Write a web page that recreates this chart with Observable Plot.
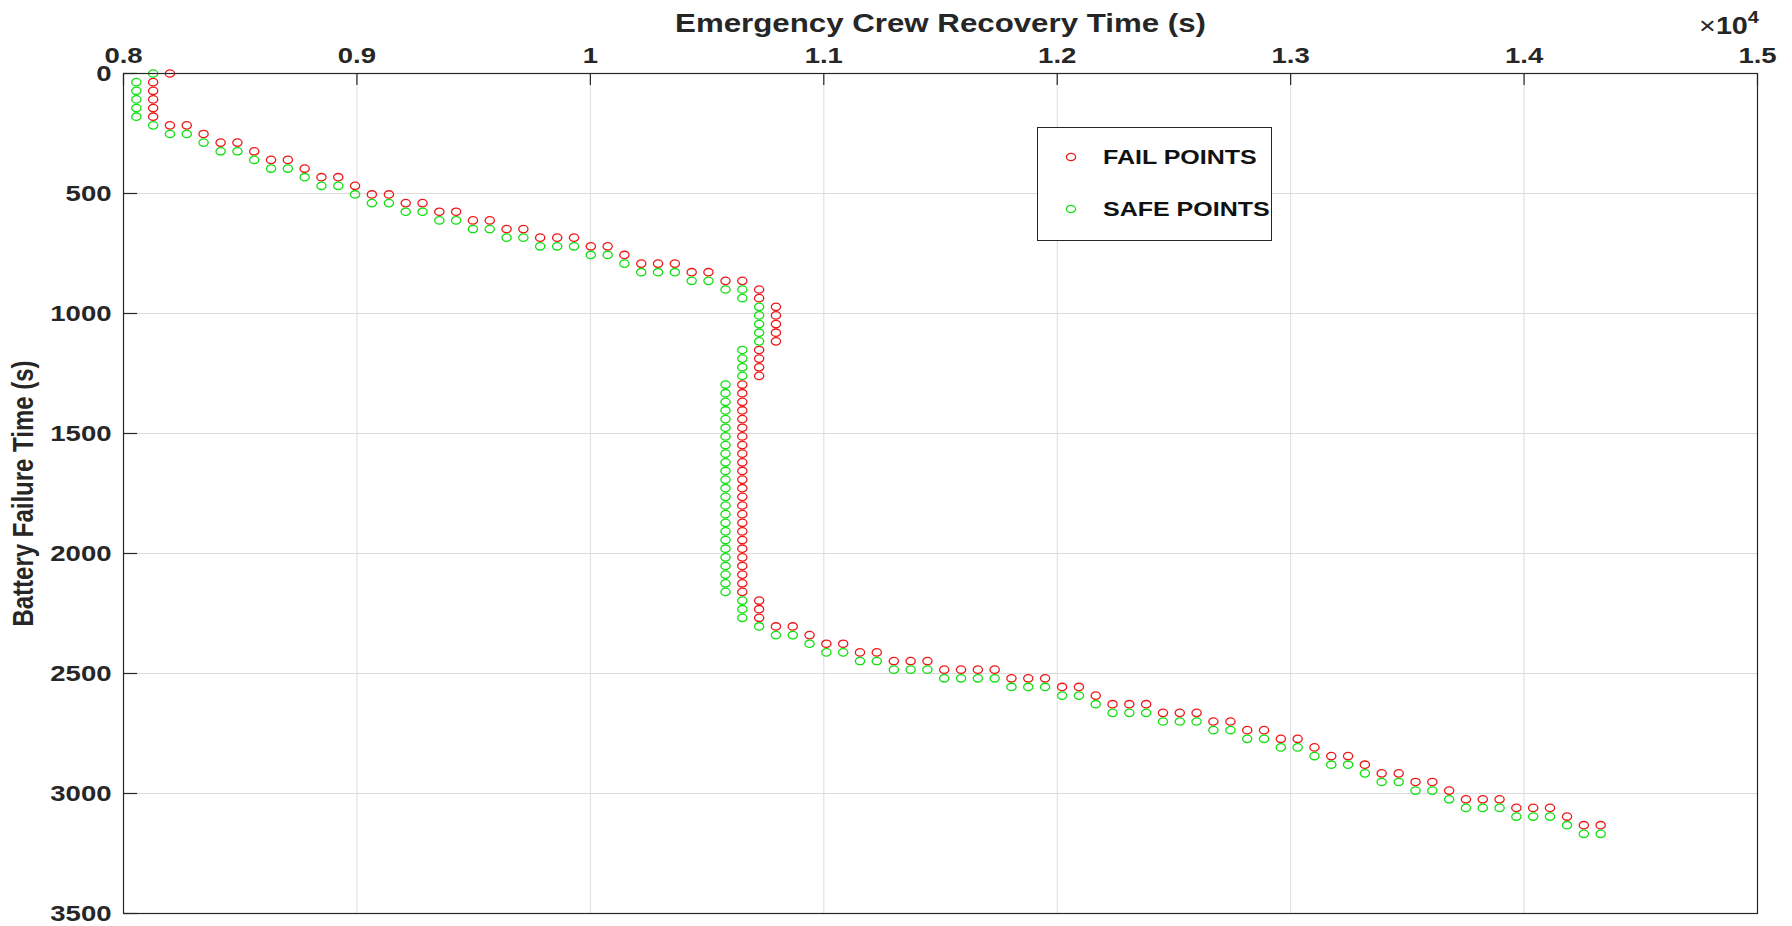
<!DOCTYPE html>
<html>
<head>
<meta charset="utf-8">
<script src="https://cdn.jsdelivr.net/npm/d3@7"></script>
<script src="https://cdn.jsdelivr.net/npm/@observablehq/plot@0.6"></script>
<style>
html, body { margin: 0; padding: 0; background: #ffffff; }
#chart { width: 1792px; height: 926px; }
</style>
</head>
<body>
<div id="chart"></div>
<script>
const xLabel = "Emergency Crew Recovery Time (s)";
const yLabel = "Battery Failure Time (s)";
const xTickValues = [8000, 9000, 10000, 11000, 12000, 13000, 14000, 15000];
const xTickLabels = ["0.8", "0.9", "1", "1.1", "1.2", "1.3", "1.4", "1.5"];
const yTickValues = [0, 500, 1000, 1500, 2000, 2500, 3000, 3500];
const yTickLabels = ["0", "500", "1000", "1500", "2000", "2500", "3000", "3500"];
const legendLabels = ["FAIL POINTS", "SAFE POINTS"];
const seriesColors = ["#ee1818", "#12e012"];

const failX = [8199,
  8127, 8127, 8127, 8127, 8127,
  8199, 8271, 8343, 8416, 8488, 8560, 8632, 8704, 8776, 8848, 8920, 8992,
  9064, 9137, 9209, 9281, 9353, 9425, 9497, 9569, 9641, 9713,
  9785, 9858, 9930, 10002, 10074, 10146, 10218, 10290, 10362,
  10434, 10506, 10579, 10651, 10723, 10723,
  10795, 10795, 10795, 10795, 10795,
  10723, 10723, 10723, 10723,
  10651, 10651, 10651, 10651, 10651, 10651, 10651, 10651, 10651, 10651,
  10651, 10651, 10651, 10651, 10651, 10651, 10651, 10651, 10651, 10651,
  10651, 10651, 10651, 10651, 10651,
  10723, 10723, 10723,
  10795, 10867, 10939, 11011, 11083, 11155, 11227,
  11300, 11372, 11444, 11516, 11588, 11660, 11732,
  11804, 11876, 11948, 12021, 12093, 12165,
  12237, 12309, 12381, 12453, 12525, 12597,
  12669, 12742, 12814, 12886, 12958, 13030, 13102,
  13174, 13246, 13318, 13390, 13463, 13535, 13607, 13679,
  13751, 13823, 13895, 13967, 14039, 14111, 14184, 14256, 14328];
const failY = [0,
  36, 72, 108, 144, 180,
  216, 216, 252, 288, 288, 324, 360, 360, 396, 432, 432, 468,
  504, 504, 540, 540, 576, 576, 612, 612, 648, 648,
  684, 684, 684, 720, 720, 756, 792, 792, 792,
  828, 828, 864, 864, 900, 936,
  972, 1008, 1044, 1080, 1116,
  1152, 1188, 1224, 1260,
  1296, 1332, 1368, 1404, 1440, 1476, 1512, 1548, 1584, 1620,
  1656, 1692, 1728, 1764, 1800, 1836, 1872, 1908, 1944, 1980,
  2016, 2052, 2088, 2124, 2160,
  2196, 2232, 2268,
  2304, 2304, 2340, 2376, 2376, 2412, 2412,
  2448, 2448, 2448, 2484, 2484, 2484, 2484,
  2520, 2520, 2520, 2556, 2556, 2592,
  2628, 2628, 2628, 2664, 2664, 2664,
  2700, 2700, 2736, 2736, 2772, 2772, 2808,
  2844, 2844, 2880, 2916, 2916, 2952, 2952, 2988,
  3024, 3024, 3024, 3060, 3060, 3060, 3096, 3132, 3132];

const safeX = [8127,
  8055, 8055, 8055, 8055, 8055,
  8127, 8199, 8271, 8343, 8416, 8488, 8560, 8632, 8704, 8776, 8848, 8920, 8992,
  9064, 9137, 9209, 9281, 9353, 9425, 9497, 9569, 9641, 9713,
  9785, 9858, 9930, 10002, 10074, 10146, 10218, 10290, 10362,
  10434, 10506, 10579, 10651, 10651,
  10723, 10723, 10723, 10723, 10723,
  10651, 10651, 10651, 10651,
  10579, 10579, 10579, 10579, 10579, 10579, 10579, 10579, 10579, 10579,
  10579, 10579, 10579, 10579, 10579, 10579, 10579, 10579, 10579, 10579,
  10579, 10579, 10579, 10579, 10579,
  10651, 10651, 10651,
  10723, 10795, 10867, 10939, 11011, 11083, 11155, 11227,
  11300, 11372, 11444, 11516, 11588, 11660, 11732,
  11804, 11876, 11948, 12021, 12093, 12165,
  12237, 12309, 12381, 12453, 12525, 12597,
  12669, 12742, 12814, 12886, 12958, 13030, 13102,
  13174, 13246, 13318, 13390, 13463, 13535, 13607, 13679,
  13751, 13823, 13895, 13967, 14039, 14111, 14184, 14256, 14328];
const safeY = [0,
  36, 72, 108, 144, 180,
  216, 252, 252, 288, 324, 324, 360, 396, 396, 432, 468, 468, 504,
  540, 540, 576, 576, 612, 612, 648, 648, 684, 684,
  720, 720, 720, 756, 756, 792, 828, 828, 828,
  864, 864, 900, 900, 936,
  972, 1008, 1044, 1080, 1116,
  1152, 1188, 1224, 1260,
  1296, 1332, 1368, 1404, 1440, 1476, 1512, 1548, 1584, 1620,
  1656, 1692, 1728, 1764, 1800, 1836, 1872, 1908, 1944, 1980,
  2016, 2052, 2088, 2124, 2160,
  2196, 2232, 2268,
  2304, 2340, 2340, 2376, 2412, 2412, 2448, 2448,
  2484, 2484, 2484, 2520, 2520, 2520, 2520,
  2556, 2556, 2556, 2592, 2592, 2628,
  2664, 2664, 2664, 2700, 2700, 2700,
  2736, 2736, 2772, 2772, 2808, 2808, 2844,
  2880, 2880, 2916, 2952, 2952, 2988, 2988, 3024,
  3060, 3060, 3060, 3096, 3096, 3096, 3132, 3168, 3168];

const failPoints = failX.slice(0, Math.min(failX.length, failY.length)).map((x, i) => ({x, y: failY[i]}));
const safePoints = safeX.slice(0, Math.min(safeX.length, safeY.length)).map((x, i) => ({x, y: safeY[i]}));

// MATLAB-style "o" marker, a little wider than tall as in the picture
const ovalSymbol = {
  draw(ctx, size) {
    const r = Math.sqrt(size / Math.PI);
    const rx = r * 1.25, ry = r, k = 0.5523;
    ctx.moveTo(rx, 0);
    ctx.bezierCurveTo(rx, ry * k, rx * k, ry, 0, ry);
    ctx.bezierCurveTo(-rx * k, ry, -rx, ry * k, -rx, 0);
    ctx.bezierCurveTo(-rx, -ry * k, -rx * k, -ry, 0, -ry);
    ctx.bezierCurveTo(rx * k, -ry, rx, -ry * k, rx, 0);
    ctx.closePath();
  }
};

const FONT = "'Liberation Sans', Arial, Helvetica, sans-serif";
const INK = "#262626";
const STRETCH = 1.25; // the picture's text is drawn wider than normal
const R = 3.7;

const plot = Plot.plot({
  width: 1792,
  height: 926,
  marginLeft: 123,
  marginRight: 35,
  marginTop: 73,
  marginBottom: 13,
  style: {fontFamily: FONT, background: "#ffffff", color: INK, overflow: "visible"},
  x: {domain: [8000, 15000]},
  y: {domain: [0, 3500], reverse: true},
  marks: [
    Plot.gridX(xTickValues, {stroke: "#dcdcdc", strokeOpacity: 1, strokeWidth: 1}),
    Plot.gridY(yTickValues, {stroke: "#dcdcdc", strokeOpacity: 1, strokeWidth: 1}),
    Plot.dot(failPoints, {x: "x", y: "y", r: R, symbol: ovalSymbol, fill: "none", stroke: seriesColors[0], strokeWidth: 1.3}),
    Plot.dot(safePoints, {x: "x", y: "y", r: R, symbol: ovalSymbol, fill: "none", stroke: seriesColors[1], strokeWidth: 1.3}),
    Plot.frame({stroke: INK, strokeWidth: 1.2}),
    Plot.axisX(xTickValues, {anchor: "top", tickSize: -11, tickFormat: () => "", label: null, stroke: INK, strokeWidth: 1.2}),
    Plot.axisY(yTickValues, {anchor: "left", tickSize: -14, tickFormat: () => "", label: null, stroke: INK, strokeWidth: 1.2}),
    Plot.axisX(xTickValues, {anchor: "top", tickSize: 0, tickPadding: 11, label: null,
      tickFormat: d => xTickLabels[xTickValues.indexOf(d)], fontSize: 22, fontWeight: "bold", fill: INK}),
    Plot.axisY(yTickValues, {anchor: "left", tickSize: 0, tickPadding: 12, label: null,
      tickFormat: d => yTickLabels[yTickValues.indexOf(d)], fontSize: 22, fontWeight: "bold", fill: INK}),
    Plot.text([xLabel], {text: d => d, frameAnchor: "top", dy: -50, lineAnchor: "middle", textAnchor: "middle",
      fontSize: 25, fontWeight: "bold", fill: INK}),
    Plot.text([yLabel], {text: d => d, frameAnchor: "left", dx: -100, rotate: -90, lineAnchor: "middle", textAnchor: "middle",
      fontSize: 24, fontWeight: "bold", fill: INK})
  ]
});

document.getElementById("chart").appendChild(plot);

const svg = d3.select(plot);

// x10^4 exponent label
const expo = svg.append("text")
  .attr("x", 1759).attr("y", 34)
  .attr("text-anchor", "end")
  .attr("font-family", FONT).attr("font-size", 23).attr("fill", INK);
expo.append("tspan").text("\u00d7");
expo.append("tspan").attr("font-weight", "bold").text("10");
expo.append("tspan").attr("dy", -11).attr("font-size", 16).attr("font-weight", "bold").text("4");

// legend
const lg = svg.append("g").attr("font-family", FONT);
lg.append("rect").attr("x", 1037.5).attr("y", 127.5).attr("width", 234).attr("height", 113)
  .attr("fill", "#ffffff").attr("stroke", INK).attr("stroke-width", 1);
const sym = d3.symbol(ovalSymbol, R * R * Math.PI);
legendLabels.forEach((label, i) => {
  const cy = 157 + i * 52;
  lg.append("path").attr("d", sym()).attr("transform", `translate(1071,${cy})`)
    .attr("fill", "none").attr("stroke", seriesColors[i]).attr("stroke-width", 1.3);
  lg.append("text").attr("x", 1103).attr("y", cy).attr("dy", "0.36em")
    .attr("text-anchor", "start")
    .attr("font-size", 20).attr("font-weight", "bold").attr("fill", "#111")
    .text(label);
});

// widen every horizontal text as in the picture; the rotated label is widened across its glyphs
svg.selectAll("text").each(function () {
  if (this.textContent === yLabel) {
    const t = this.getAttribute("transform");
    if (t) this.setAttribute("transform", t + " scale(1,1.2)");
    return;
  }
  const L = this.getComputedTextLength();
  if (L > 0) {
    this.setAttribute("textLength", (L * STRETCH).toFixed(1));
    this.setAttribute("lengthAdjust", "spacingAndGlyphs");
  }
});
</script>
</body>
</html>
